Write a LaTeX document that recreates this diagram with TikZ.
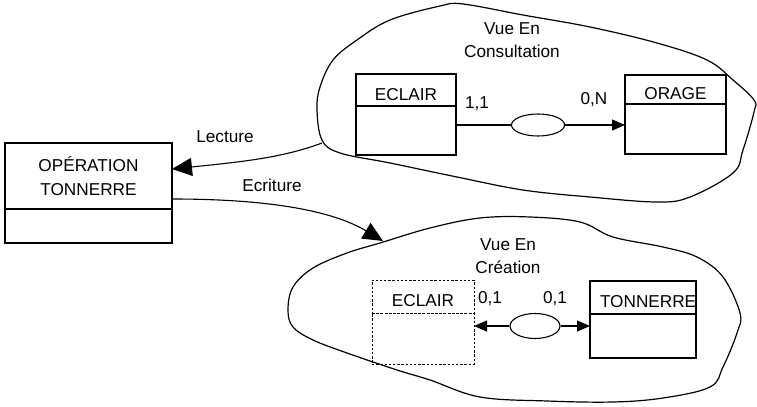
\documentclass[tikz,border=0pt]{standalone}
\usepackage{fontspec}
\setmainfont{Liberation Sans}
\usetikzlibrary{shapes.geometric,positioning,arrows.meta,calc}

\begin{document}
\begin{tikzpicture}[
    x=0.5pt, y=-0.5pt,
    line width=0.55pt,
    font=\fontsize{8.6}{11.8}\selectfont,
    enthead/.style={rectangle, draw, outer sep=0pt, inner sep=2pt, align=center},
    lowtext/.style={text height=10pt, text depth=0pt},
    entbody/.style={rectangle, draw, outer sep=0pt, inner sep=0pt},
    ghost/.style={dash pattern=on 1.2pt off 0.9pt, line width=0.45pt},
    assoc/.style={ellipse, draw, inner sep=0pt},
    arrow/.style={-{Triangle[length=6.5pt, width=5.5pt]}},
    bigarrow/.style={-{Triangle[length=10pt, width=9pt]}},
    cloud/.style={draw, line width=0.6pt, tension=0.6},
    lbl/.style={inner sep=0pt},
    card/.style={inner sep=0pt},
]
\useasboundingbox (0,0) rectangle (757,407);

% Clouds
\draw[cloud] plot[smooth cycle] coordinates {(333,60) (357,40) (390,20) (440,6) (463,4) (523,15) (590,27) (657,43) (707,60) (733,80) (754,100) (754,112) (743,150) (733,173) (690,197) (657,202) (590,197) (523,190) (457,177) (390,163) (340,153) (322,140) (317,110) (320,87)};
\draw[cloud] plot[smooth cycle] coordinates {(288,310) (293,287) (313,268) (347,253) (380,243) (430,228) (480,218) (530,217) (580,222) (613,237) (663,247) (697,257) (723,277) (740,313) (737,333) (723,367) (710,387) (663,398) (613,402) (547,401) (480,397) (430,380) (397,370) (347,353) (313,340) (293,327)};
\node[align=center] (consultTitle) at (512,40) {Vue En\\Consultation};
\node[align=center] (creationTitle) at (508,256) {Vue En\\Création};

% Entities
\node[enthead, minimum width=83.5pt, minimum height=33pt, anchor=north west] (opTitle) at (5,143) {OPÉRATION\\TONNERRE};
\node[entbody, minimum width=83.5pt, minimum height=17pt, below=0pt of opTitle] (opBody) {};

\node[enthead, lowtext, minimum width=50pt, minimum height=16pt, anchor=north west] (eclTitle) at (356,74) {ECLAIR};
\node[entbody, minimum width=50pt, minimum height=24.5pt, below=0pt of eclTitle] (eclBody) {};

\node[enthead, lowtext, minimum width=50.5pt, minimum height=14.5pt, anchor=north west] (orageTitle) at (625,75) {ORAGE};
\node[entbody, minimum width=50.5pt, minimum height=25pt, below=0pt of orageTitle] (orageBody) {};

\node[enthead, lowtext, ghost, minimum width=51pt, minimum height=16.5pt, anchor=north west] (ghostTitle) at (372,280) {ECLAIR};
\node[entbody, ghost, minimum width=51pt, minimum height=25.5pt, below=0pt of ghostTitle] (ghostBody) {};

\node[enthead, lowtext, inner xsep=5pt, minimum width=53pt, minimum height=16.5pt, anchor=north west] (tonTitle) at (590,281) {\makebox[43pt][l]{TONNERRE}};
\node[entbody, minimum width=53pt, minimum height=22pt, below=0pt of tonTitle] (tonBody) {};

% Associations
\node[assoc, minimum width=26.5pt, minimum height=11pt] (consultAssoc) at (538,125) {};
\node[assoc, minimum width=25pt, minimum height=12.5pt] (creationAssoc) at (535,326) {};

\draw (consultAssoc) -- (consultAssoc -| eclBody.east);
\draw[arrow] (consultAssoc) -- (consultAssoc -| orageBody.west);
\draw[arrow] (creationAssoc) -- (creationAssoc -| ghostBody.east);
\draw[arrow] (creationAssoc) -- (creationAssoc -| tonBody.west);

\node[card] (eclCard) at (477,104) {1,1};
\node[card] (orageCard) at (594,100) {0,N};
\node[card] (ghostCard) at (490,299) {0,1};
\node[card] (tonCard) at (555,299) {0,1};

% Reading / writing
\coordinate (lectStart) at (322,143);
\coordinate (lectEnd) at ([yshift=3.5pt]opTitle.east);
\coordinate (ecrStart) at ([yshift=5pt]opTitle.south east);
\coordinate (ecrEnd) at (383,241);
\draw[bigarrow] (lectStart) .. controls (282,158) and (240,162) .. (lectEnd);
\draw[bigarrow] (ecrStart) .. controls (270,199) and (333,211) .. (ecrEnd);
\node[lbl] (lectLbl) at (225,137) {Lecture};
\node[lbl] (ecrLbl) at (272,185) {Ecriture};

\end{tikzpicture}
\end{document}
